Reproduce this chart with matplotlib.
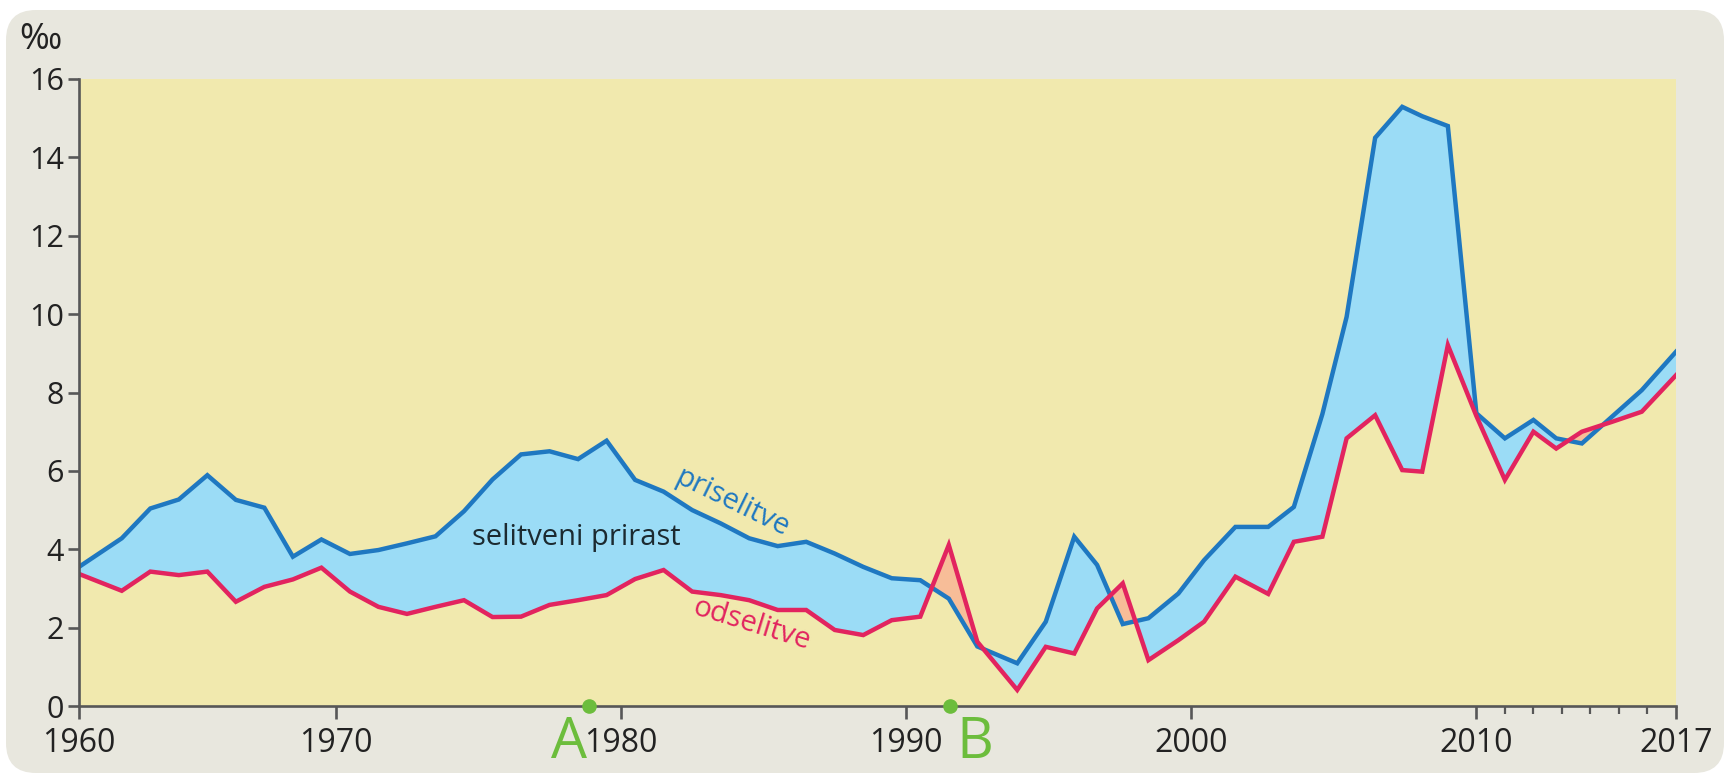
import matplotlib
matplotlib.use("Agg")
import numpy as np
import matplotlib.pyplot as plt
from matplotlib.patches import FancyBboxPatch

plt.rcParams['font.family'] = ['Open Sans', 'DejaVu Sans']

# vertex positions (years)
years = [1961.0, 1962.5, 1963.5, 1964.5, 1965.5, 1966.5, 1967.5, 1968.5, 1969.5, 1970.5,
         1971.5, 1972.5, 1973.5, 1974.5, 1975.5, 1976.5, 1977.5, 1978.5, 1979.5, 1980.5,
         1981.5, 1982.5, 1983.5, 1984.5, 1985.5, 1986.5, 1987.5, 1988.5, 1989.5, 1990.5,
         1991.5, 1992.5, 1993.9, 1994.9, 1995.9, 1996.7, 1997.6, 1998.5, 1999.55, 2000.45,
         2001.55, 2002.7, 2003.6, 2004.6, 2005.45, 2006.45, 2007.4, 2008.1, 2009.0, 2010.0,
         2011.0, 2012.0, 2012.8, 2013.7, 2014.75, 2015.8, 2017.0]

# priselitve (immigration), per mille
priselitve = [3.55, 4.28, 5.04, 5.27, 5.89, 5.26, 5.06, 3.81, 4.25, 3.88,
              3.98, 4.15, 4.33, 4.97, 5.78, 6.42, 6.50, 6.30, 6.77, 5.77,
              5.47, 5.00, 4.66, 4.28, 4.08, 4.19, 3.89, 3.55, 3.26, 3.21,
              2.74, 1.52, 1.09, 2.15, 4.32, 3.60, 2.09, 2.24, 2.87, 3.72,
              4.57, 4.57, 5.08, 7.45, 9.93, 14.50, 15.29, 15.05, 14.80, 7.47,
              6.83, 7.30, 6.83, 6.70, 7.38, 8.06, 9.04]

# odselitve (emigration), per mille
odselitve = [3.37, 2.94, 3.43, 3.34, 3.43, 2.66, 3.04, 3.23, 3.53, 2.92,
             2.53, 2.35, 2.53, 2.70, 2.27, 2.28, 2.58, 2.70, 2.83, 3.24,
             3.47, 2.92, 2.83, 2.70, 2.45, 2.45, 1.94, 1.81, 2.19, 2.28,
             4.11, 1.64, 0.41, 1.51, 1.34, 2.49, 3.13, 1.17, 1.68, 2.15,
             3.30, 2.86, 4.19, 4.32, 6.83, 7.42, 6.02, 5.98, 9.21, 7.40,
             5.77, 7.00, 6.57, 7.00, 7.25, 7.51, 8.44]

tick_pos = [1961, 1970, 1980, 1990, 2000, 2010, 2017]
tick_labels = ['1960', '1970', '1980', '1990', '2000', '2010', '2017']
minor_pos = [2011, 2012, 2013, 2014, 2015, 2016]
y_ticks = [0, 2, 4, 6, 8, 10, 12, 14, 16]

markers = {'A': 1978.9, 'B': 1991.55}

c_box = '#e8e7de'
c_plot = '#f1e9ae'
c_blue = '#1f78c1'
c_blue_fill = '#9bdcf6'
c_red = '#e2245f'
c_salmon = '#f7bd98'
c_green = '#6cbd3c'
c_axis = '#575757'
c_text = '#222222'

W, H = 1730, 779
fig = plt.figure(figsize=(W / 100, H / 100), dpi=100)
fig.patch.set_facecolor('white')

box = FancyBboxPatch((0.06, 0.06), 17.18, 7.63, boxstyle='round,pad=0,rounding_size=0.3',
                     transform=fig.dpi_scale_trans, facecolor=c_box, edgecolor='none', zorder=-5)
fig.patches.append(box)

ax = fig.add_axes([79 / W, 1 - 706 / H, (1676 - 79) / W, (706 - 79) / H])
ax.set_zorder(2)
ax.set_facecolor(c_plot)

x = np.array(years)
p = np.array(priselitve)
o = np.array(odselitve)

ax.fill_between(x, p, o, where=p >= o, interpolate=True, color=c_blue_fill, lw=0, zorder=1)
ax.fill_between(x, p, o, where=p < o, interpolate=True, color=c_salmon, lw=0, zorder=1)
ax.plot(x, p, color=c_blue, lw=3.2, solid_joinstyle='miter', zorder=2)
ax.plot(x, o, color=c_red, lw=3.2, solid_joinstyle='miter', zorder=3)

ax.set_xlim(1961, 2017)
ax.set_ylim(0, 16)

for s in ['top', 'right']:
    ax.spines[s].set_visible(False)
for s in ['left', 'bottom']:
    ax.spines[s].set_color(c_axis)
    ax.spines[s].set_linewidth(1.9)
    ax.spines[s].set_zorder(4)

ax.set_xticks(tick_pos)
ax.set_xticklabels(tick_labels)
ax.set_xticks(minor_pos, minor=True)
ax.set_yticks(y_ticks)
ax.tick_params(axis='both', which='major', direction='out', color=c_axis, width=1.9,
               labelcolor=c_text)
ax.tick_params(axis='x', which='major', length=9, pad=6, labelsize=23)
ax.tick_params(axis='x', which='minor', direction='out', length=6, width=1.6, color=c_axis)
ax.tick_params(axis='y', which='major', length=8, pad=3, labelsize=22)

fig.text(19 / W, 1 - 40 / H, '\u2030', fontsize=26, color=c_text, ha='left', va='center')

ax.text(1978.43, 4.29, 'selitveni prirast', fontsize=21, color='#1c2a30',
        ha='center', va='center', zorder=5)
ax.text(1983.9, 5.17, 'priselitve', fontsize=21, color=c_blue, rotation=-26,
        ha='center', va='center', rotation_mode='anchor', zorder=5)
ax.text(1984.6, 2.07, 'odselitve', fontsize=21, color=c_red, rotation=-17,
        ha='center', va='center', rotation_mode='anchor', zorder=5)

for name, yr in markers.items():
    ax.plot([yr], [0], 'o', ms=9.5, color=c_green, clip_on=False, zorder=6)
ax.text(1978.18, -0.95, 'A', fontsize=41, color=c_green, ha='center', va='center')
ax.text(1992.42, -0.95, 'B', fontsize=41, color=c_green, ha='center', va='center')

fig.savefig('out.png', dpi=100, facecolor='white')
